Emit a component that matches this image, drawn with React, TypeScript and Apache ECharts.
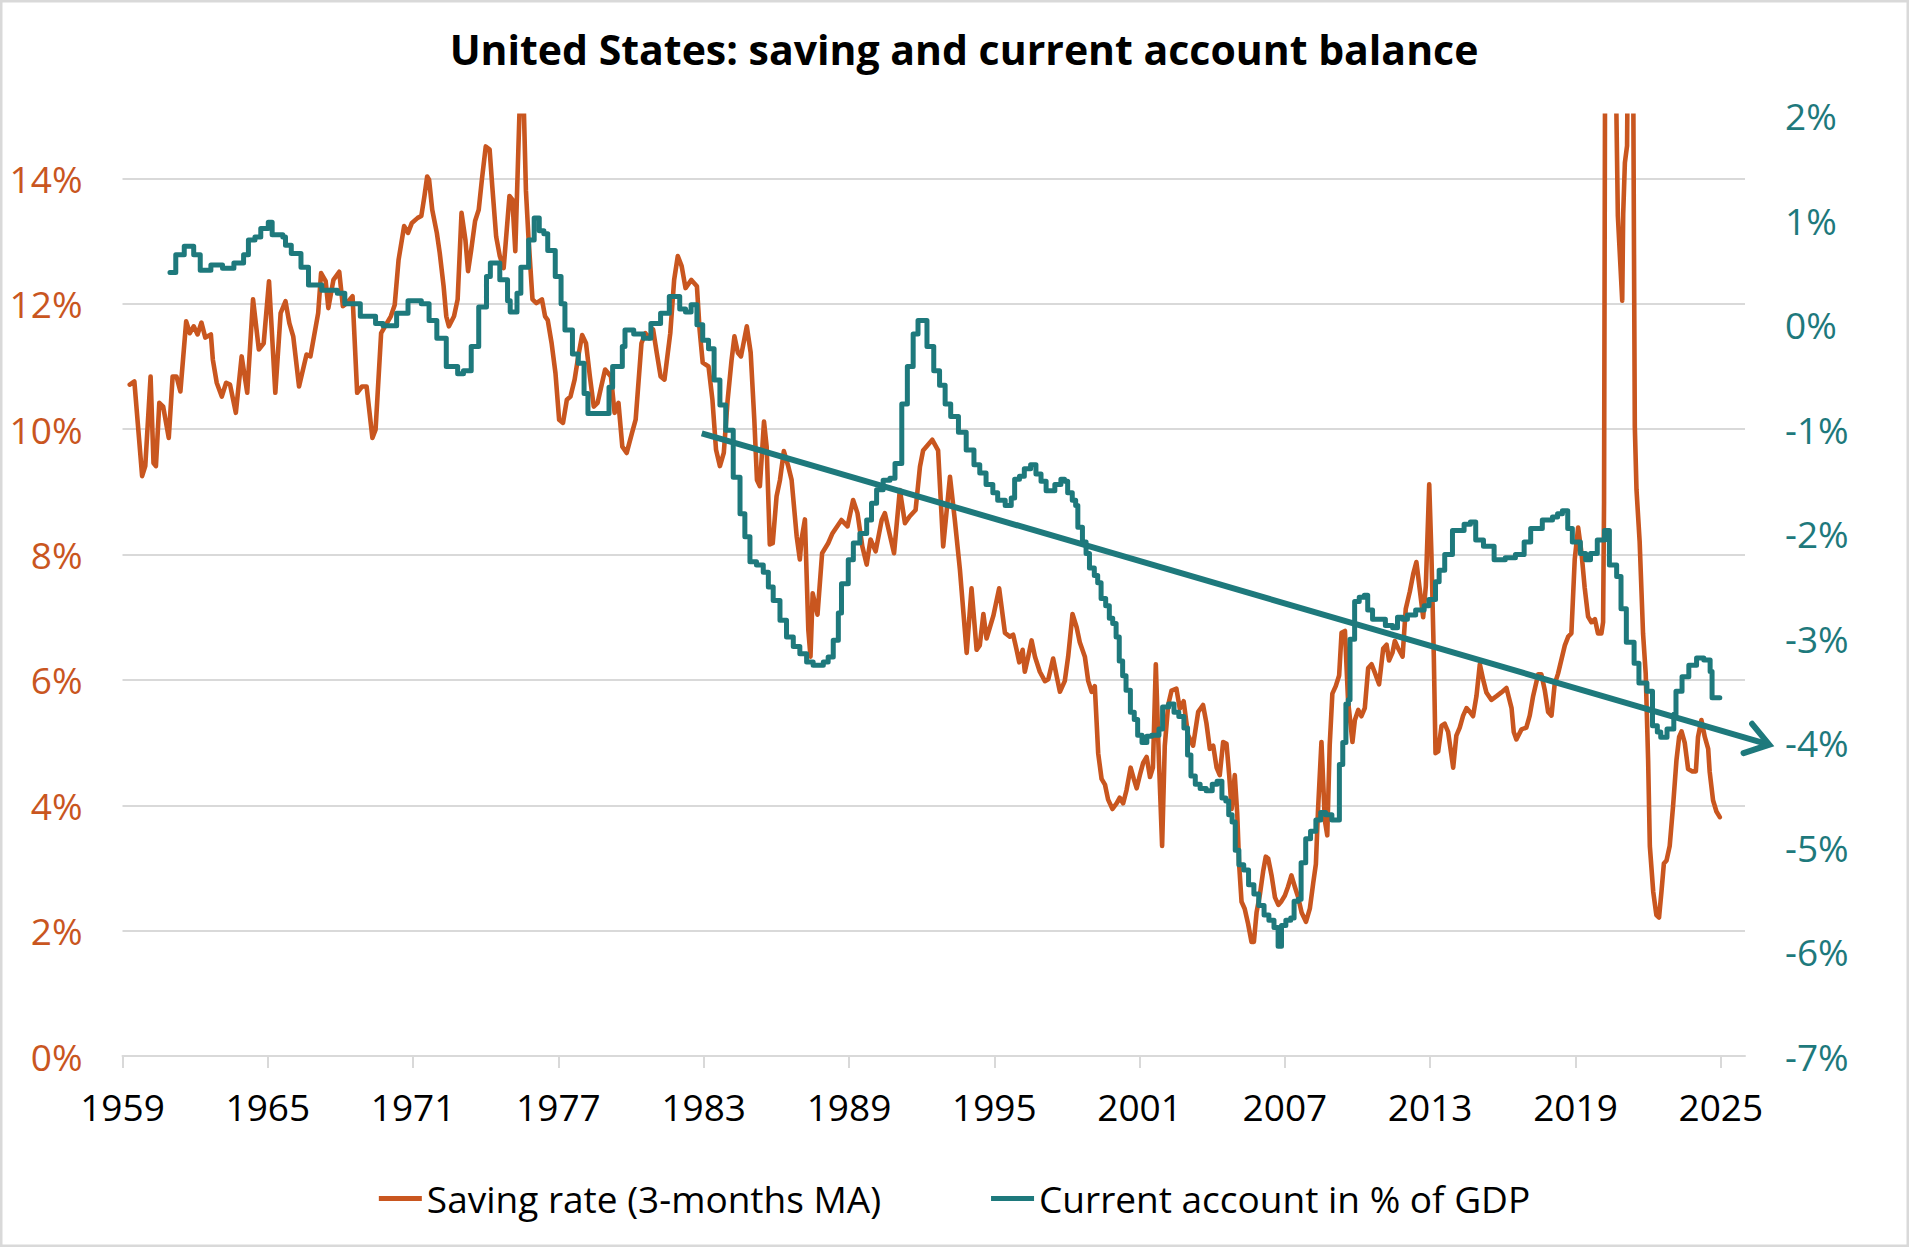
import React, { useEffect, useRef } from "react";
import * as echarts from "echarts";

// US personal saving rate, 3-month moving average (% of disposable income): [year, value]
const savingRate: [number, number][] = [
  [1959.3, 10.71], [1959.49, 10.76], [1959.81, 9.25], [1959.94, 9.41], [1960.16, 10.84], [1960.28, 9.46],
  [1960.38, 9.41], [1960.52, 10.42], [1960.68, 10.36], [1960.91, 9.86], [1961.07, 10.84], [1961.23, 10.84],
  [1961.39, 10.6], [1961.63, 11.72], [1961.78, 11.53], [1961.94, 11.64], [1962.1, 11.51], [1962.26, 11.7],
  [1962.42, 11.46], [1962.65, 11.51], [1962.73, 11.11], [1962.89, 10.74], [1963.1, 10.52], [1963.28, 10.74],
  [1963.44, 10.71], [1963.68, 10.26], [1963.92, 11.16], [1964.15, 10.58], [1964.39, 12.07], [1964.63, 11.27],
  [1964.83, 11.37], [1965.05, 12.36], [1965.31, 10.58], [1965.53, 11.85], [1965.73, 12.04], [1965.89, 11.69],
  [1966.05, 11.48], [1966.29, 10.68], [1966.6, 11.19], [1966.76, 11.16], [1967.08, 11.85], [1967.2, 12.49],
  [1967.39, 12.36], [1967.5, 11.93], [1967.71, 12.38], [1967.95, 12.51], [1968.1, 11.96], [1968.26, 12.01],
  [1968.5, 12.12], [1968.69, 10.58], [1968.89, 10.68], [1969.08, 10.68], [1969.32, 9.86], [1969.45, 9.99],
  [1969.68, 11.53], [1969.84, 11.64], [1970.08, 11.8], [1970.24, 11.98], [1970.4, 12.7], [1970.63, 13.24],
  [1970.79, 13.13], [1970.95, 13.29], [1971.19, 13.37], [1971.34, 13.4], [1971.47, 13.72], [1971.58, 14.03],
  [1971.66, 13.98], [1971.79, 13.5], [1971.98, 13.13], [1972.1, 12.81], [1972.26, 12.28], [1972.37, 11.8],
  [1972.48, 11.64], [1972.69, 11.8], [1972.84, 12.07], [1973.0, 13.45], [1973.16, 13.02], [1973.27, 12.52],
  [1973.4, 12.86], [1973.56, 13.32], [1973.71, 13.5], [1973.84, 13.98], [1974.0, 14.51], [1974.16, 14.46],
  [1974.27, 13.87], [1974.43, 13.07], [1974.58, 12.76], [1974.74, 12.57], [1974.98, 13.72], [1975.1, 13.66],
  [1975.22, 12.84], [1975.42, 15.4], [1975.56, 15.3], [1975.66, 13.8], [1975.77, 13.02], [1975.93, 12.07],
  [1976.09, 12.01], [1976.32, 12.07], [1976.45, 11.8], [1976.56, 11.74], [1976.72, 11.37], [1976.88, 10.89],
  [1977.03, 10.15], [1977.19, 10.1], [1977.35, 10.47], [1977.5, 10.52], [1977.67, 10.79], [1977.82, 11.16],
  [1977.98, 11.5], [1978.14, 11.37], [1978.3, 10.84], [1978.46, 10.36], [1978.62, 10.42], [1978.77, 10.68],
  [1978.93, 10.95], [1979.17, 10.84], [1979.32, 10.26], [1979.48, 10.42], [1979.64, 9.72], [1979.82, 9.62],
  [1980.04, 9.94], [1980.19, 10.15], [1980.43, 11.37], [1980.59, 11.53], [1980.75, 11.45], [1980.91, 11.59],
  [1981.06, 11.22], [1981.22, 10.84], [1981.38, 10.79], [1981.62, 11.53], [1981.78, 12.38], [1981.93, 12.76],
  [1982.09, 12.6], [1982.25, 12.25], [1982.49, 12.38], [1982.72, 12.28], [1982.83, 11.59], [1982.96, 11.06],
  [1983.2, 11.0], [1983.36, 10.47], [1983.51, 9.67], [1983.67, 9.41], [1983.83, 9.62], [1983.99, 10.47],
  [1984.15, 11.1], [1984.27, 11.48], [1984.41, 11.22], [1984.54, 11.16], [1984.78, 11.64], [1984.94, 11.22],
  [1985.09, 10.15], [1985.2, 9.19], [1985.32, 9.09], [1985.49, 10.12], [1985.6, 9.72], [1985.73, 8.16],
  [1985.85, 8.18], [1986.01, 8.93], [1986.15, 9.19], [1986.31, 9.65], [1986.49, 9.41], [1986.63, 9.19],
  [1986.84, 8.29], [1986.97, 7.92], [1987.04, 8.24], [1987.18, 8.56], [1987.32, 6.8], [1987.41, 6.37],
  [1987.5, 7.38], [1987.7, 7.04], [1987.89, 8.02], [1988.14, 8.18], [1988.32, 8.34], [1988.69, 8.55],
  [1988.94, 8.45], [1989.17, 8.87], [1989.35, 8.66], [1989.55, 8.13], [1989.73, 7.84], [1989.89, 8.24],
  [1990.1, 8.05], [1990.35, 8.55], [1990.48, 8.66], [1990.86, 8.02], [1991.1, 9.03], [1991.31, 8.5],
  [1991.51, 8.61], [1991.75, 8.71], [1991.93, 9.4], [1992.06, 9.66], [1992.44, 9.83], [1992.68, 9.66],
  [1992.78, 8.93], [1992.89, 8.13], [1993.17, 9.24], [1993.37, 8.55], [1993.58, 7.76], [1993.86, 6.43],
  [1994.06, 7.46], [1994.27, 6.48], [1994.4, 6.55], [1994.55, 7.05], [1994.68, 6.66], [1994.96, 7.02],
  [1995.2, 7.46], [1995.44, 6.75], [1995.64, 6.69], [1995.78, 6.72], [1995.92, 6.48], [1996.03, 6.28],
  [1996.17, 6.48], [1996.26, 6.13], [1996.4, 6.37], [1996.54, 6.63], [1996.68, 6.37], [1996.88, 6.13],
  [1997.09, 5.98], [1997.23, 6.01], [1997.43, 6.34], [1997.57, 6.07], [1997.71, 5.81], [1997.91, 5.98],
  [1998.05, 6.37], [1998.23, 7.05], [1998.4, 6.84], [1998.53, 6.6], [1998.74, 6.37], [1998.88, 5.98],
  [1999.02, 5.81], [1999.15, 5.9], [1999.29, 4.83], [1999.43, 4.42], [1999.57, 4.33], [1999.7, 4.09],
  [1999.88, 3.94], [2000.05, 4.03], [2000.18, 4.12], [2000.32, 4.03], [2000.46, 4.24], [2000.63, 4.6],
  [2000.76, 4.42], [2000.88, 4.27], [2001.01, 4.48], [2001.15, 4.68], [2001.29, 4.77], [2001.43, 4.45],
  [2001.55, 4.6], [2001.67, 6.25], [2001.8, 4.7], [2001.93, 3.35], [2002.04, 4.95], [2002.18, 5.6],
  [2002.32, 5.83], [2002.52, 5.86], [2002.66, 5.54], [2002.82, 5.66], [2003.0, 5.12], [2003.21, 4.95],
  [2003.42, 5.49], [2003.62, 5.6], [2003.76, 5.31], [2003.9, 4.9], [2004.04, 4.95], [2004.18, 4.6],
  [2004.31, 4.48], [2004.45, 5.01], [2004.59, 4.98], [2004.7, 4.48], [2004.8, 3.94], [2004.93, 4.48],
  [2005.03, 3.88], [2005.11, 3.06], [2005.21, 2.46], [2005.34, 2.35], [2005.48, 2.11], [2005.62, 1.82],
  [2005.72, 1.82], [2005.83, 2.29], [2005.97, 2.58], [2006.1, 2.94], [2006.21, 3.18], [2006.31, 3.15],
  [2006.45, 2.88], [2006.59, 2.53], [2006.73, 2.41], [2006.86, 2.47], [2007.0, 2.56], [2007.13, 2.7],
  [2007.27, 2.88], [2007.41, 2.7], [2007.55, 2.53], [2007.69, 2.29], [2007.87, 2.14], [2008.03, 2.35],
  [2008.17, 2.76], [2008.28, 3.06], [2008.37, 3.94], [2008.51, 5.01], [2008.65, 3.76], [2008.75, 3.52],
  [2008.85, 4.95], [2008.96, 5.78], [2009.1, 5.9], [2009.24, 6.07], [2009.34, 6.75], [2009.48, 6.78],
  [2009.61, 5.66], [2009.79, 5.01], [2009.89, 5.36], [2010.03, 5.52], [2010.16, 5.42], [2010.3, 5.55],
  [2010.44, 6.19], [2010.58, 6.25], [2010.71, 6.12], [2010.89, 5.93], [2011.06, 6.5], [2011.2, 6.56],
  [2011.3, 6.31], [2011.44, 6.43], [2011.54, 6.62], [2011.68, 6.5], [2011.86, 6.37], [2011.99, 7.13],
  [2012.16, 7.41], [2012.3, 7.69], [2012.43, 7.88], [2012.57, 7.44], [2012.71, 7.0], [2012.82, 7.5],
  [2012.96, 9.12], [2013.05, 8.02], [2013.15, 6.37], [2013.22, 4.83], [2013.33, 4.86], [2013.47, 5.27],
  [2013.6, 5.3], [2013.74, 5.17], [2013.95, 4.6], [2014.08, 5.11], [2014.22, 5.24], [2014.36, 5.43],
  [2014.5, 5.55], [2014.64, 5.49], [2014.77, 5.42], [2014.91, 5.74], [2015.05, 6.25], [2015.19, 6.0],
  [2015.32, 5.8], [2015.53, 5.68], [2015.74, 5.74], [2015.94, 5.8], [2016.15, 5.87], [2016.36, 5.55],
  [2016.45, 5.17], [2016.56, 5.05], [2016.77, 5.21], [2016.97, 5.24], [2017.11, 5.43], [2017.25, 5.74],
  [2017.46, 6.09], [2017.59, 6.09], [2017.73, 5.84], [2017.87, 5.49], [2018.01, 5.43], [2018.14, 5.93],
  [2018.28, 6.1], [2018.56, 6.55], [2018.7, 6.69], [2018.83, 6.74], [2018.97, 7.93], [2019.11, 8.43],
  [2019.25, 8.02], [2019.38, 7.47], [2019.52, 7.01], [2019.66, 6.92], [2019.8, 6.97], [2019.93, 6.74],
  [2020.07, 6.74], [2020.14, 6.92], [2020.18, 8.84], [2020.26, 22.0], [2020.4, 25.0], [2020.55, 19.0],
  [2020.68, 15.3], [2020.75, 13.4], [2020.93, 12.05], [2020.97, 13.43], [2021.04, 14.25], [2021.13, 14.52],
  [2021.2, 18.0], [2021.3, 19.0], [2021.38, 16.0], [2021.42, 12.51], [2021.45, 10.04], [2021.52, 9.03],
  [2021.65, 8.2], [2021.79, 6.74], [2021.9, 6.1], [2022.0, 4.72], [2022.07, 3.35], [2022.21, 2.62],
  [2022.34, 2.25], [2022.45, 2.21], [2022.55, 2.62], [2022.65, 3.07], [2022.76, 3.12], [2022.89, 3.35],
  [2023.03, 3.99], [2023.17, 4.72], [2023.28, 5.09], [2023.38, 5.18], [2023.51, 5.0], [2023.65, 4.58],
  [2023.83, 4.54], [2023.97, 4.54], [2024.06, 5.09], [2024.2, 5.36], [2024.34, 5.09], [2024.48, 4.9],
  [2024.54, 4.54], [2024.68, 4.08], [2024.82, 3.9], [2024.96, 3.81],
];

// US current account balance (% of GDP), drawn as a staircase: [year, value]
const currentAccount: [number, number][] = [
  [1960.96, 0.5], [1961.2, 0.67], [1961.55, 0.75], [1961.94, 0.67], [1962.21, 0.52], [1962.65, 0.57],
  [1963.13, 0.54], [1963.6, 0.59], [1964.0, 0.67], [1964.2, 0.81], [1964.47, 0.84], [1964.71, 0.92],
  [1965.02, 0.98], [1965.18, 0.86], [1965.62, 0.84], [1965.73, 0.76], [1965.97, 0.68], [1966.37, 0.55],
  [1966.68, 0.38], [1967.23, 0.33], [1967.87, 0.3], [1968.18, 0.2], [1968.82, 0.08], [1969.45, 0.01],
  [1969.76, -0.01], [1970.32, 0.11], [1970.79, 0.23], [1971.34, 0.2], [1971.66, 0.04], [1971.98, -0.13],
  [1972.37, -0.4], [1972.84, -0.47], [1973.08, -0.44], [1973.4, -0.21], [1973.71, 0.17], [1974.03, 0.46],
  [1974.19, 0.59], [1974.58, 0.43], [1974.9, 0.23], [1975.01, 0.12], [1975.29, 0.3], [1975.45, 0.55],
  [1975.77, 0.81], [1976.0, 1.02], [1976.21, 0.9], [1976.4, 0.87], [1976.56, 0.71], [1976.87, 0.46],
  [1977.11, 0.2], [1977.27, -0.05], [1977.58, -0.28], [1977.82, -0.37], [1978.06, -0.66], [1978.22, -0.85],
  [1979.09, -0.6], [1979.24, -0.4], [1979.64, -0.21], [1979.75, -0.05], [1980.11, -0.09], [1980.51, -0.13],
  [1980.82, 0.01], [1981.22, 0.11], [1981.58, 0.27], [1982.01, 0.15], [1982.25, 0.12], [1982.48, 0.19],
  [1982.72, 0.0], [1982.96, -0.15], [1983.2, -0.23], [1983.43, -0.53], [1983.67, -0.77], [1983.91, -1.01],
  [1984.22, -1.46], [1984.5, -1.81], [1984.7, -2.03], [1984.91, -2.27], [1985.18, -2.3], [1985.46, -2.37],
  [1985.67, -2.51], [1985.87, -2.64], [1986.15, -2.83], [1986.42, -2.99], [1986.7, -3.08], [1986.97, -3.15],
  [1987.25, -3.23], [1987.52, -3.26], [1987.94, -3.23], [1988.14, -3.18], [1988.35, -3.02], [1988.56, -2.76],
  [1988.69, -2.48], [1988.97, -2.25], [1989.18, -2.09], [1989.45, -2.0], [1989.73, -1.87], [1989.93, -1.71],
  [1990.14, -1.58], [1990.41, -1.49], [1990.69, -1.47], [1990.9, -1.33], [1991.18, -0.76], [1991.41, -0.4],
  [1991.65, -0.09], [1991.85, 0.04], [1992.22, -0.21], [1992.5, -0.44], [1992.74, -0.58], [1992.97, -0.76],
  [1993.2, -0.88], [1993.52, -1.03], [1993.84, -1.2], [1994.16, -1.34], [1994.4, -1.42], [1994.66, -1.53],
  [1994.94, -1.61], [1995.14, -1.68], [1995.45, -1.73], [1995.7, -1.66], [1995.84, -1.48], [1996.04, -1.45],
  [1996.24, -1.38], [1996.5, -1.34], [1996.72, -1.43], [1996.93, -1.5], [1997.14, -1.59], [1997.5, -1.53],
  [1997.75, -1.48], [1997.9, -1.5], [1998.03, -1.61], [1998.22, -1.68], [1998.36, -1.73], [1998.45, -1.94],
  [1998.64, -2.08], [1998.79, -2.19], [1998.93, -2.33], [1999.13, -2.4], [1999.27, -2.47], [1999.41, -2.62],
  [1999.6, -2.69], [1999.75, -2.81], [1999.89, -2.86], [2000.03, -2.99], [2000.16, -3.22], [2000.3, -3.36],
  [2000.44, -3.5], [2000.62, -3.71], [2000.78, -3.78], [2000.92, -3.93], [2001.1, -4.0], [2001.3, -3.94],
  [2001.5, -3.93], [2001.8, -3.87], [2001.95, -3.66], [2002.2, -3.63], [2002.42, -3.71], [2002.62, -3.75],
  [2002.83, -3.86], [2002.98, -4.12], [2003.12, -4.32], [2003.3, -4.4], [2003.5, -4.44], [2003.75, -4.46],
  [2004.0, -4.4], [2004.2, -4.37], [2004.4, -4.53], [2004.56, -4.56], [2004.68, -4.69], [2004.82, -4.76],
  [2004.95, -5.03], [2005.1, -5.17], [2005.3, -5.22], [2005.5, -5.36], [2005.72, -5.45], [2005.92, -5.56],
  [2006.14, -5.65], [2006.34, -5.7], [2006.55, -5.77], [2006.72, -5.95], [2006.86, -5.75], [2007.04, -5.7],
  [2007.24, -5.68], [2007.38, -5.52], [2007.55, -5.5], [2007.67, -5.15], [2007.86, -4.92], [2008.06, -4.85],
  [2008.28, -4.74], [2008.48, -4.67], [2008.68, -4.69], [2008.94, -4.74], [2009.25, -4.21], [2009.39, -4.0],
  [2009.52, -3.63], [2009.62, -3.59], [2009.69, -3.01], [2009.88, -2.65], [2010.07, -2.61], [2010.28, -2.59],
  [2010.42, -2.73], [2010.62, -2.82], [2011.15, -2.88], [2011.45, -2.9], [2011.65, -2.8], [2011.85, -2.82],
  [2012.06, -2.78], [2012.4, -2.73], [2012.75, -2.69], [2012.95, -2.63], [2013.22, -2.46], [2013.37, -2.35],
  [2013.6, -2.2], [2013.92, -1.97], [2014.4, -1.91], [2014.66, -1.89], [2014.88, -2.06], [2015.2, -2.12],
  [2015.64, -2.25], [2016.1, -2.23], [2016.52, -2.2], [2016.88, -2.08], [2017.15, -1.95], [2017.63, -1.87],
  [2018.05, -1.84], [2018.26, -1.81], [2018.46, -1.78], [2018.68, -1.95], [2018.87, -2.08], [2019.2, -2.19],
  [2019.42, -2.25], [2019.62, -2.19], [2019.9, -2.06], [2020.2, -1.97], [2020.4, -2.3], [2020.7, -2.41],
  [2020.88, -2.72], [2021.1, -3.04], [2021.42, -3.24], [2021.62, -3.43], [2021.95, -3.51], [2022.18, -3.84],
  [2022.38, -3.9], [2022.52, -3.95], [2022.78, -3.87], [2023.06, -3.73], [2023.15, -3.51], [2023.4, -3.37],
  [2023.68, -3.26], [2024.0, -3.19], [2024.3, -3.21], [2024.56, -3.32], [2024.64, -3.57], [2024.96, -3.57],
];

// Downward trend of the current account: start and tip of the arrow, [year, % of GDP]
const trendStart: [number, number] = [1982.92, -1.04];
const trendEnd: [number, number] = [2027.0, -4.02];

// Year labels on the horizontal axis
const yearTicks: number[] = [1959, 1965, 1971, 1977, 1983, 1989, 1995, 2001, 2007, 2013, 2019, 2025];

const SAVING_NAME = "Saving rate (3-months MA)";
const CA_NAME = "Current account in % of GDP";
const TITLE = "United States: saving and current account balance";

const ORANGE = "#C9561F";
const TEAL = "#1E797C";
const GRID_GREY = "#D9D9D9";
const FONT = "'Open Sans', 'Noto Sans', sans-serif";

export default function App() {
  const ref = useRef<HTMLDivElement | null>(null);

  useEffect(() => {
    if (!ref.current) return;
    const chart = echarts.init(ref.current, undefined, { renderer: "svg" });

    const option: any = {
      animation: false,
      backgroundColor: "#ffffff",
      textStyle: { fontFamily: FONT },
      graphic: [
        {
          type: "rect",
          silent: true,
          shape: { x: 1.25, y: 1.25, width: 1906.5, height: 1244.5 },
          style: { fill: "none", stroke: GRID_GREY, lineWidth: 2.5 },
        },
        {
          type: "text",
          x: 964,
          y: 49,
          silent: true,
          style: {
            text: TITLE,
            fill: "#000000",
            font: `bold 41px ${FONT}`,
            textAlign: "center",
            textVerticalAlign: "middle",
          },
        },
      ],
      grid: {
        left: 122.5,
        right: 164,
        top: 115.7,
        bottom: 191,
        containLabel: false,
        outerBoundsMode: "none",
      },
      legend: {
        left: "center",
        top: 1175,
        icon: "rect",
        itemWidth: 43,
        itemHeight: 5,
        itemGap: 110,
        textStyle: { fontSize: 37, color: "#000000", fontFamily: FONT },
        data: [SAVING_NAME, CA_NAME],
      },
      xAxis: {
        type: "value",
        min: 1959,
        max: 2026,
        interval: 6,
        axisLine: { show: true, lineStyle: { color: GRID_GREY, width: 2 } },
        axisTick: {
          show: true,
          length: 12,
          customValues: yearTicks,
          lineStyle: { color: GRID_GREY, width: 2 },
        },
        axisLabel: {
          customValues: yearTicks,
          formatter: (v: number) => (yearTicks.indexOf(Math.round(v)) >= 0 ? String(Math.round(v)) : ""),
          color: "#000000",
          fontSize: 37,
          fontFamily: FONT,
          margin: 32,
        },
        splitLine: { show: false },
      },
      yAxis: [
        {
          type: "value",
          position: "left",
          min: 0,
          max: 15,
          interval: 2,
          axisLine: { show: false },
          axisTick: { show: false },
          axisLabel: {
            formatter: (v: number) => (v > 14.5 ? "" : `${v}%`),
            color: ORANGE,
            fontSize: 37,
            fontFamily: FONT,
            margin: 40,
          },
          splitLine: {
            show: true,
            showMinLine: false,
            showMaxLine: false,
            lineStyle: { color: GRID_GREY, width: 2 },
          },
        },
        {
          type: "value",
          position: "right",
          min: -7,
          max: 2,
          interval: 1,
          axisLine: { show: false },
          axisTick: { show: false },
          splitLine: { show: false },
          axisLabel: {
            formatter: (v: number) => `${v}%`,
            color: TEAL,
            fontSize: 37,
            fontFamily: FONT,
            margin: 40,
          },
        },
      ],
      series: [
        {
          name: SAVING_NAME,
          type: "line",
          yAxisIndex: 0,
          data: savingRate,
          showSymbol: false,
          symbol: "none",
          clip: true,
          itemStyle: { color: ORANGE },
          lineStyle: { color: ORANGE, width: 4.6, join: "round", cap: "round" },
          z: 2,
        },
        {
          name: CA_NAME,
          type: "line",
          yAxisIndex: 1,
          data: currentAccount,
          step: "end",
          showSymbol: false,
          symbol: "none",
          itemStyle: { color: TEAL },
          lineStyle: { color: TEAL, width: 5, join: "round", cap: "round" },
          z: 3,
        },
        {
          name: "trend",
          type: "custom",
          yAxisIndex: 1,
          clip: false,
          silent: true,
          z: 4,
          encode: { x: [0, 2], y: [1, 3] },
          data: [[trendStart[0], trendStart[1], trendEnd[0], trendEnd[1]]],
          renderItem: (_params: any, api: any) => {
            const p0 = api.coord([api.value(0), api.value(1)]);
            const p1 = api.coord([api.value(2), api.value(3)]);
            const ang = Math.atan2(p1[1] - p0[1], p1[0] - p0[0]);
            const len = 27;
            const spread = 0.6;
            const a1 = [p1[0] - len * Math.cos(ang - spread), p1[1] - len * Math.sin(ang - spread)];
            const a2 = [p1[0] - len * Math.cos(ang + spread), p1[1] - len * Math.sin(ang + spread)];
            return {
              type: "group",
              children: [
                {
                  type: "line",
                  shape: { x1: p0[0], y1: p0[1], x2: p1[0] - 2 * Math.cos(ang), y2: p1[1] - 2 * Math.sin(ang) },
                  style: { stroke: TEAL, lineWidth: 6, lineCap: "butt" },
                },
                {
                  type: "polyline",
                  shape: { points: [a1, p1, a2] },
                  style: { stroke: TEAL, fill: "none", lineWidth: 6, lineJoin: "miter", lineCap: "round" },
                },
              ],
            };
          },
        },
      ],
    };

    chart.setOption(option);
    return () => {
      chart.dispose();
    };
  }, []);

  return (
    <div
      ref={ref}
      style={{ position: "absolute", left: 0, top: 0, width: "1909px", height: "1247px", background: "#ffffff" }}
    />
  );
}
